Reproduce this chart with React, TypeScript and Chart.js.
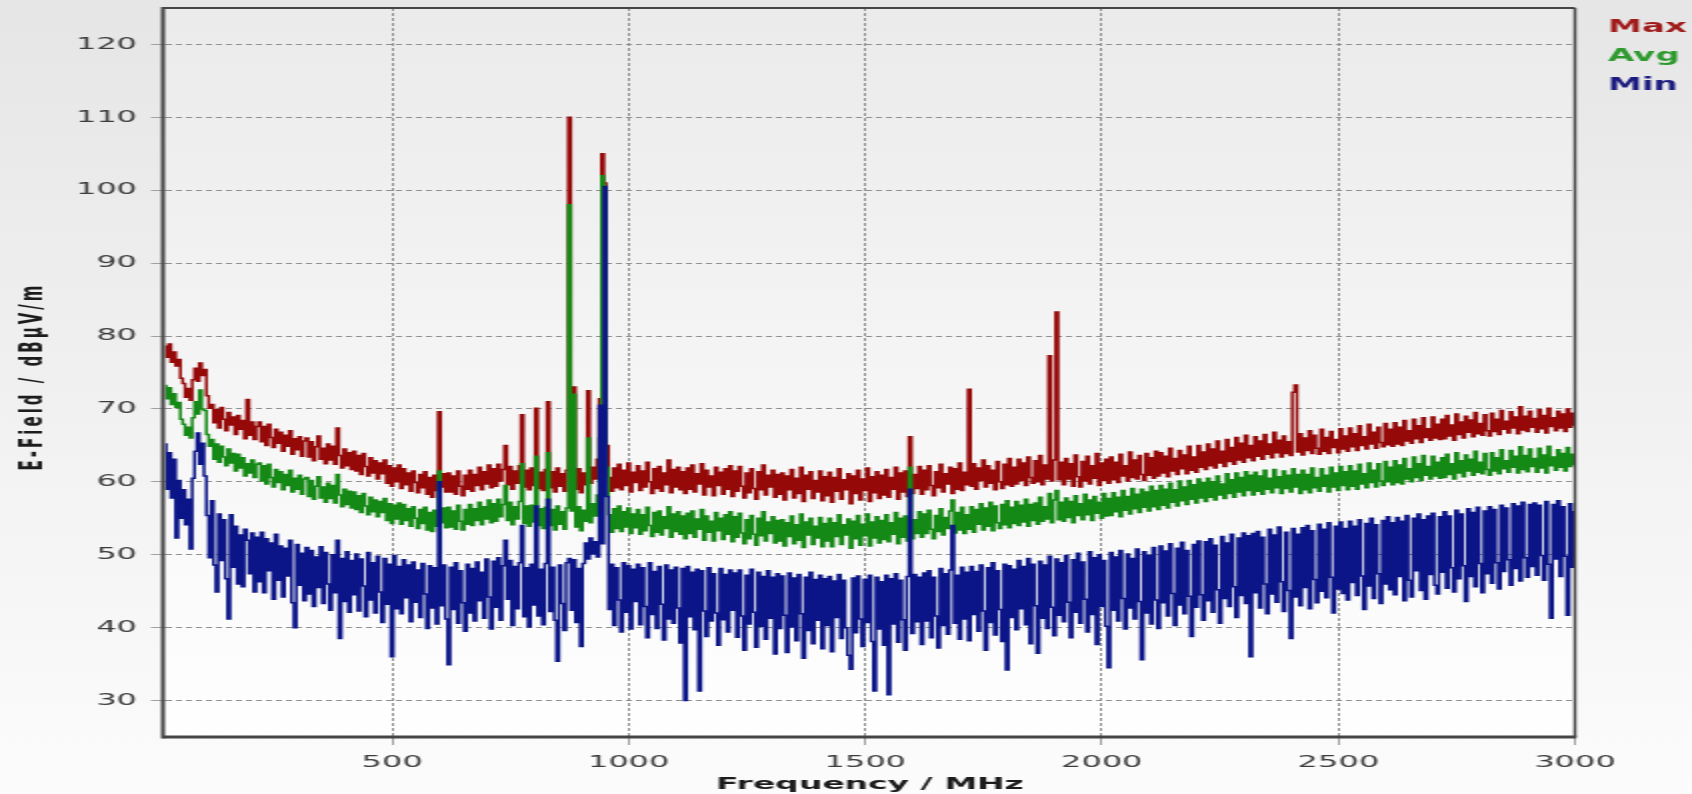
import { useEffect, useRef } from "react";
import { Chart, registerables } from "chart.js";

Chart.register(...registerables);

// ---------------- data ----------------
const START_MHZ = 20;
const STEP_MHZ = 5;
const X_MIN = 20;
const X_MAX = 3000;
const Y_MIN = 25;
const Y_MAX = 125;
const X_TICKS = [500, 1000, 1500, 2000, 2500, 3000];
const Y_TICKS = [30, 40, 50, 60, 70, 80, 90, 100, 110, 120];
const SERIES_NAMES = ["Max", "Avg", "Min"];
const X_TITLE = "Frequency / MHz";
const Y_TITLE = "E-Field / dBµV/m";

// one value every 5 MHz; each row covers 100 MHz (row r starts at 20 + 100 r MHz)
const MAX_DBUV = [
  78.6, 77.1, 78.9, 76.4, 77.8, 75.9, 76.8, 74.2, 73.5, 71.6, 72.8, 71.2, 74.0, 75.6, 73.8, 76.3, 74.6, 75.4, 71.8, 70.1,
  70.6, 68.1, 69.9, 67.4, 70.2, 68.6, 67.0, 69.5, 67.8, 68.9, 66.5, 69.1, 67.2, 68.4, 65.9, 71.3, 66.4, 68.2, 65.8, 67.6,
  68.2, 65.5, 67.6, 65.0, 67.9, 66.1, 64.7, 67.2, 65.3, 66.8, 64.2, 66.4, 64.9, 67.0, 63.8, 65.9, 64.4, 66.2, 63.5, 65.6,
  66.0, 63.4, 65.5, 62.9, 64.8, 66.3, 63.1, 64.6, 62.5, 65.2, 63.0, 64.9, 62.4, 67.4, 63.6, 61.9, 64.5, 62.2, 64.0, 61.7,
  64.2, 61.5, 63.6, 61.0, 63.9, 62.1, 60.8, 63.3, 61.2, 62.9, 60.4, 62.6, 61.1, 63.0, 59.8, 62.2, 59.4, 61.9, 60.0, 62.3,
  59.1, 61.8, 59.6, 61.2, 58.7, 61.5, 59.9, 58.5, 61.0, 59.2, 61.4, 58.3, 60.6, 57.9, 60.9, 58.8, 69.6, 59.3, 61.1, 58.6,
  61.2, 58.6, 60.8, 58.3, 61.5, 59.4, 58.1, 60.9, 59.0, 61.6, 58.7, 61.0, 59.5, 62.0, 58.9, 61.4, 59.7, 62.3, 59.2, 61.8,
  59.4, 62.4, 60.1, 61.7, 65.0, 59.6, 62.1, 59.0, 61.5, 59.8, 62.2, 69.2, 59.3, 61.6, 58.9, 61.9, 59.5, 70.1, 59.1, 61.3,
  58.8, 61.7, 71.0, 59.2, 61.4, 58.6, 61.9, 59.4, 61.1, 58.7, 61.6, 110.0, 61.0, 73.0, 59.0, 61.8, 58.5, 61.2, 59.6, 72.5,
  59.8, 62.0, 60.4, 63.1, 71.4, 105.0, 101.0, 65.0, 60.6, 58.7, 61.9, 59.2, 62.4, 58.9, 61.6, 59.5, 62.6, 58.6, 61.3, 59.9,
  62.2, 58.8, 61.5, 59.3, 62.7, 60.0, 58.4, 61.8, 59.1, 62.1, 58.7, 61.2, 59.6, 63.0, 58.5, 61.7, 59.3, 62.0, 58.9, 61.4,
  58.4, 61.9, 59.0, 62.3, 58.6, 61.1, 59.7, 62.5, 58.2, 61.6, 59.3, 60.8, 58.1, 62.0, 59.5, 61.3, 58.3, 61.8, 59.0, 62.2,
  58.0, 61.5, 58.7, 62.1, 59.4, 57.8, 61.2, 58.5, 61.8, 59.1, 57.6, 61.4, 58.9, 62.3, 58.2, 60.9, 59.3, 61.6, 57.9, 61.0,
  58.3, 61.2, 57.5, 60.8, 58.9, 61.7, 57.8, 60.5, 58.4, 62.0, 57.3, 60.9, 59.0, 61.4, 57.7, 60.2, 58.6, 61.5, 57.4, 60.7,
  58.1, 61.3, 57.2, 60.6, 58.7, 61.8, 57.6, 60.3, 58.9, 61.1, 57.0, 60.8, 58.4, 61.6, 57.5, 60.4, 58.8, 61.9, 57.3, 60.7,
  58.5, 61.4, 57.7, 60.9, 58.2, 61.7, 57.9, 60.6, 59.0, 62.0, 57.6, 61.2, 58.6, 61.5, 58.0, 66.2, 58.4, 61.0, 59.1, 62.1,
  58.3, 61.6, 58.9, 62.2, 59.5, 58.1, 61.4, 59.2, 62.4, 58.6, 61.1, 59.7, 62.0, 58.4, 61.8, 59.0, 62.6, 58.8, 61.3, 59.6,
  72.7, 59.4, 62.5, 59.0, 61.9, 60.2, 63.0, 59.3, 62.2, 59.8, 61.6, 58.9, 62.8, 60.0, 59.1, 62.4, 59.6, 63.2, 59.4, 62.0,
  59.7, 63.1, 60.2, 62.6, 59.5, 63.4, 60.6, 59.8, 62.9, 60.0, 63.6, 59.6, 62.3, 60.4, 77.3, 60.1, 63.0, 83.3, 60.3, 62.7,
  59.6, 63.2, 60.4, 62.5, 59.4, 63.7, 60.7, 59.3, 62.8, 60.1, 63.5, 59.7, 62.2, 60.5, 63.9, 59.5, 62.6, 60.2, 63.1, 59.8,
  63.4, 60.3, 62.7, 59.9, 63.8, 60.8, 62.2, 60.1, 64.1, 60.6, 63.0, 60.4, 63.6, 61.0, 60.2, 63.9, 60.9, 63.3, 60.5, 64.2,
  60.8, 64.0, 61.2, 63.5, 60.7, 64.6, 61.5, 63.2, 61.0, 64.3, 61.8, 63.7, 61.1, 64.9, 61.6, 63.4, 61.3, 65.0, 62.0, 64.1,
  61.7, 65.2, 62.2, 64.5, 61.9, 65.6, 62.6, 64.2, 62.1, 65.8, 62.8, 64.7, 62.4, 66.1, 63.0, 65.3, 62.7, 66.4, 63.3, 65.0,
  62.9, 66.2, 63.5, 65.6, 63.1, 66.5, 63.8, 65.2, 63.3, 66.8, 64.0, 65.7, 63.4, 66.3, 63.9, 65.5, 63.6, 72.3, 73.3, 64.1,
  66.6, 63.7, 66.0, 64.3, 67.0, 63.9, 66.4, 64.6, 63.8, 67.2, 64.2, 66.1, 63.9, 66.9, 64.7, 65.8, 64.0, 67.3, 64.5, 66.3,
  64.2, 67.4, 64.8, 66.6, 64.3, 67.7, 65.0, 66.2, 64.5, 67.9, 65.2, 66.8, 64.6, 67.5, 65.4, 64.8, 68.0, 65.1, 67.2, 64.9,
  68.1, 65.2, 67.5, 65.0, 68.4, 65.6, 67.0, 65.3, 68.6, 65.9, 67.7, 65.4, 68.8, 66.1, 67.3, 65.7, 68.9, 66.0, 67.9, 65.8,
  68.6, 65.9, 69.1, 66.3, 67.8, 65.7, 69.3, 66.5, 68.2, 66.0, 69.0, 66.8, 68.5, 66.2, 69.5, 66.6, 68.0, 66.4, 69.2, 67.0,
  66.3, 69.4, 66.9, 68.6, 66.5, 69.8, 67.2, 68.3, 66.7, 69.6, 67.4, 68.9, 66.6, 70.3, 67.1, 69.0, 66.9, 69.7, 67.5, 68.7,
  66.8, 69.9, 67.3, 69.1, 66.7, 70.1, 67.6, 68.8, 67.0, 69.7, 67.4, 69.3, 66.9, 70.0, 67.5, 69.4, 67.8,
];

const AVG_DBUV = [
  73.2, 71.4, 72.9, 70.6, 72.1, 70.2, 70.9, 68.6, 67.9, 66.4, 67.5, 66.0, 68.8, 71.0, 69.3, 72.6, 70.0, 69.8, 66.5, 64.9,
  65.8, 63.1, 65.2, 62.7, 64.9, 63.4, 62.2, 64.5, 62.6, 63.9, 61.5, 63.8, 61.9, 63.3, 60.8, 62.5, 61.2, 63.0, 60.6, 62.4,
  62.6, 60.1, 62.2, 59.7, 62.4, 60.6, 59.3, 61.7, 59.9, 61.4, 58.9, 61.0, 59.5, 61.6, 58.6, 60.5, 59.0, 60.9, 58.3, 60.4,
  60.6, 58.0, 60.2, 57.6, 59.4, 60.7, 57.8, 59.3, 57.2, 59.8, 57.7, 59.5, 57.1, 61.0, 58.2, 56.6, 59.0, 56.9, 58.7, 56.4,
  58.6, 56.2, 58.1, 55.8, 58.4, 56.7, 55.5, 57.9, 55.9, 57.5, 55.2, 57.3, 55.8, 57.7, 54.7, 57.0, 54.3, 56.8, 54.9, 57.1,
  54.2, 56.9, 54.7, 56.3, 53.9, 56.6, 55.0, 53.6, 56.2, 54.3, 56.5, 53.4, 55.8, 53.2, 56.1, 53.9, 61.5, 54.4, 56.4, 53.7,
  56.5, 53.8, 56.0, 53.5, 56.8, 54.6, 53.4, 56.2, 54.2, 56.9, 54.0, 56.3, 54.7, 57.2, 54.1, 56.6, 54.9, 57.5, 54.4, 57.0,
  54.6, 57.6, 55.2, 56.9, 59.5, 54.7, 57.2, 54.1, 56.6, 54.9, 57.3, 62.5, 54.3, 56.7, 53.9, 56.8, 54.5, 63.5, 54.0, 56.3,
  53.6, 56.5, 64.0, 54.0, 56.2, 53.4, 56.7, 54.2, 55.9, 53.5, 56.4, 98.0, 56.0, 72.0, 53.8, 56.6, 53.3, 56.1, 54.6, 66.0,
  54.4, 57.0, 55.3, 58.2, 66.0, 102.0, 100.5, 62.0, 55.5, 53.1, 56.3, 53.6, 56.7, 53.2, 55.9, 53.8, 56.4, 52.9, 55.6, 53.7,
  56.2, 52.8, 55.5, 53.3, 56.5, 54.0, 52.5, 55.8, 53.1, 56.0, 52.7, 55.2, 53.6, 56.6, 52.4, 55.6, 53.2, 55.9, 52.8, 55.3,
  52.2, 55.7, 52.9, 56.0, 52.4, 54.9, 53.5, 56.2, 52.0, 55.3, 53.1, 54.6, 51.9, 55.8, 53.3, 55.0, 52.1, 55.5, 52.8, 55.9,
  51.8, 55.2, 52.4, 55.7, 53.0, 51.5, 54.8, 52.2, 55.4, 52.8, 51.3, 55.0, 52.6, 55.9, 51.9, 54.5, 52.9, 55.2, 51.6, 54.7,
  51.9, 54.8, 51.2, 54.4, 52.5, 55.3, 51.5, 54.1, 52.0, 55.6, 51.0, 54.5, 52.7, 55.0, 51.4, 53.9, 52.3, 55.1, 51.1, 54.3,
  51.9, 55.0, 51.1, 54.4, 52.5, 55.5, 51.4, 54.1, 52.7, 54.9, 50.9, 54.6, 52.2, 55.4, 51.3, 54.2, 52.6, 55.6, 51.2, 54.5,
  52.3, 55.2, 51.6, 54.7, 52.1, 55.5, 51.8, 54.4, 52.8, 55.8, 51.5, 55.0, 52.4, 55.3, 51.9, 62.0, 52.2, 54.8, 52.9, 55.9,
  52.4, 55.6, 52.9, 56.1, 53.5, 52.2, 55.4, 53.2, 56.3, 52.7, 55.1, 53.6, 56.0, 57.5, 53.0, 55.8, 53.4, 56.5, 52.9, 55.5,
  53.5, 56.6, 53.1, 56.2, 54.2, 57.0, 53.4, 56.4, 53.9, 57.2, 53.3, 56.7, 54.4, 53.6, 56.9, 54.1, 57.4, 53.7, 56.5, 54.3,
  57.3, 54.0, 56.8, 54.5, 57.6, 53.9, 56.9, 54.7, 57.1, 54.2, 57.9, 54.6, 56.6, 54.9, 58.4, 54.4, 57.5, 58.8, 54.8, 57.2,
  54.6, 57.8, 55.1, 57.3, 54.4, 58.1, 55.4, 57.0, 54.8, 58.3, 55.5, 57.5, 54.7, 58.0, 55.7, 57.2, 55.0, 58.4, 55.3, 57.7,
  55.4, 58.5, 55.9, 57.9, 55.2, 58.8, 56.1, 58.0, 55.6, 59.1, 56.3, 58.3, 55.8, 59.0, 56.5, 58.6, 56.0, 59.4, 56.6, 58.8,
  56.2, 59.5, 56.8, 59.0, 56.4, 59.8, 57.2, 58.9, 56.7, 60.1, 57.4, 59.3, 56.9, 60.2, 57.6, 59.6, 57.1, 60.4, 57.8, 59.9,
  57.3, 60.5, 57.9, 60.0, 57.5, 60.8, 58.2, 59.7, 57.7, 61.1, 58.4, 60.3, 57.9, 61.2, 58.6, 60.6, 58.1, 61.4, 58.8, 60.9,
  58.2, 61.3, 58.7, 60.8, 58.3, 61.6, 59.0, 60.5, 58.5, 61.7, 59.2, 60.7, 58.4, 61.5, 59.1, 60.9, 58.6, 61.8, 59.3, 61.0,
  58.4, 61.6, 58.9, 61.0, 58.5, 61.9, 59.2, 60.6, 58.7, 61.8, 59.4, 60.9, 58.6, 62.0, 59.3, 61.2, 58.8, 62.1, 59.5, 61.4,
  58.9, 62.2, 59.4, 61.5, 59.0, 62.4, 59.7, 61.1, 59.2, 62.6, 59.9, 61.6, 59.3, 62.5, 60.1, 59.5, 62.8, 60.0, 62.0, 59.6,
  62.9, 59.9, 62.3, 59.7, 63.2, 60.4, 61.8, 60.0, 63.4, 60.6, 62.5, 60.2, 63.6, 60.9, 62.1, 60.4, 63.5, 60.8, 62.7, 60.5,
  63.3, 60.6, 63.8, 61.0, 62.5, 60.4, 64.0, 61.2, 62.9, 60.7, 63.7, 61.5, 63.1, 60.9, 64.2, 61.3, 62.7, 61.1, 63.9, 61.7,
  60.9, 64.0, 61.5, 63.3, 61.1, 64.4, 61.8, 62.9, 61.3, 64.3, 62.0, 63.5, 61.2, 64.8, 61.7, 63.6, 61.4, 64.5, 62.1, 63.2,
  61.3, 64.6, 61.9, 63.7, 61.2, 64.9, 62.2, 63.4, 61.6, 64.4, 62.0, 63.9, 61.5, 64.7, 62.1, 63.8, 62.4,
];

const MIN_DBUV = [
  65.2, 59.0, 64.0, 57.8, 63.1, 52.3, 60.2, 55.0, 58.9, 54.1, 57.6, 50.8, 60.5, 64.2, 66.7, 62.4, 65.3, 60.8, 55.4, 49.6,
  57.4, 48.6, 44.9, 55.6, 49.2, 54.8, 46.7, 41.2, 55.5, 48.3, 53.9, 46.0, 52.7, 45.6, 53.5, 52.0, 47.4, 53.0, 44.9, 52.4,
  46.3, 53.1, 44.8, 52.2, 47.8, 51.6, 43.9, 52.8, 46.5, 51.2, 44.2, 50.9, 47.1, 52.0, 43.4, 40.0, 51.4, 45.8, 50.2, 43.7,
  51.0, 44.6, 50.6, 42.9, 49.7, 45.5, 51.1, 43.3, 50.3, 46.0, 42.4, 50.0, 44.8, 52.0, 38.5, 49.5, 43.6, 50.4, 42.1, 49.2,
  44.5, 50.1, 42.3, 49.4, 45.7, 41.5, 50.3, 43.8, 48.9, 42.0, 49.8, 44.9, 40.7, 49.5, 43.2, 48.7, 36.0, 49.9, 42.6, 48.4,
  41.9, 49.3, 44.1, 48.6, 40.8, 49.0, 43.5, 47.9, 41.4, 48.8, 44.6, 39.9, 48.5, 42.7, 48.2, 40.5, 60.0, 43.0, 48.6, 41.2,
  34.9, 48.3, 42.5, 48.9, 40.6, 47.8, 43.4, 39.5, 48.7, 42.0, 48.1, 40.9, 49.0, 43.7, 47.6, 41.3, 49.4, 44.2, 39.8, 49.1,
  42.8, 49.6, 41.0, 48.5, 52.0, 43.9, 49.2, 40.3, 48.4, 42.6, 48.9, 54.0, 41.5, 48.2, 40.1, 48.7, 43.1, 56.7, 41.6, 48.0,
  40.4, 48.8, 57.6, 42.2, 48.3, 41.0, 35.4, 48.6, 43.3, 39.6, 48.9, 49.5, 42.4, 49.3, 40.7, 48.1, 37.4, 48.8, 51.6, 49.4,
  52.3, 50.1, 51.8, 49.7, 70.5, 51.5, 100.5, 58.0, 42.5, 48.7, 40.3, 48.2, 43.8, 39.4, 48.9, 42.1, 48.5, 39.8, 48.0, 43.6,
  48.7, 40.4, 48.2, 42.9, 38.6, 48.9, 41.8, 47.7, 39.9, 48.4, 43.2, 38.3, 48.6, 41.2, 47.9, 40.6, 48.3, 42.7, 37.9, 48.1,
  30.0, 48.4, 41.5, 47.6, 39.7, 48.0, 31.3, 47.8, 42.3, 38.8, 48.2, 40.9, 47.4, 42.0, 37.6, 48.1, 41.1, 47.3, 39.4, 47.9,
  42.4, 47.5, 38.7, 47.9, 41.6, 36.9, 47.2, 40.5, 48.0, 42.1, 37.3, 47.6, 40.2, 47.0, 38.4, 47.8, 41.3, 46.9, 36.4, 47.4,
  39.9, 47.1, 41.7, 36.6, 47.5, 40.1, 46.8, 38.2, 47.3, 41.9, 35.8, 46.9, 39.6, 47.6, 37.8, 46.6, 41.0, 47.2, 37.1, 46.7,
  40.3, 47.0, 36.7, 46.4, 41.4, 47.3, 38.5, 46.5, 40.0, 36.2, 34.3, 46.8, 39.3, 47.1, 41.2, 37.4, 46.6, 40.7, 47.2, 38.1,
  31.3, 46.9, 39.8, 46.3, 37.6, 47.2, 30.8, 46.7, 40.5, 47.4, 38.0, 46.5, 41.1, 36.9, 47.0, 59.0, 39.2, 47.3, 40.8, 46.9,
  37.7, 47.5, 40.9, 47.8, 38.6, 46.9, 41.6, 37.2, 48.1, 40.3, 47.4, 39.1, 47.9, 54.0, 40.6, 47.2, 38.4, 48.3, 41.2, 47.6,
  38.2, 48.4, 41.8, 47.7, 39.5, 48.6, 42.3, 36.9, 48.2, 40.7, 48.9, 39.0, 47.8, 42.5, 38.1, 48.7, 34.2, 48.5, 41.4, 48.0,
  39.7, 49.2, 42.6, 48.4, 40.4, 49.5, 37.8, 48.7, 43.0, 36.5, 49.1, 41.3, 48.6, 39.9, 49.8, 42.8, 38.9, 49.4, 41.7, 48.9,
  40.8, 49.9, 43.5, 38.6, 49.3, 42.1, 50.2, 40.6, 49.0, 43.9, 39.4, 50.4, 41.8, 49.6, 37.7, 50.0, 42.9, 49.2, 40.2, 34.5,
  50.3, 42.4, 49.7, 40.9, 50.6, 44.0, 39.8, 50.1, 42.7, 49.5, 41.2, 50.8, 43.6, 35.6, 50.4, 42.0, 49.9, 40.5, 51.0, 43.8,
  39.9, 51.2, 43.4, 50.5, 41.6, 51.5, 44.7, 40.3, 50.9, 43.1, 51.7, 41.9, 50.6, 44.3, 38.8, 51.4, 42.8, 51.9, 44.5, 41.0,
  51.8, 43.7, 52.2, 42.1, 51.3, 45.2, 40.6, 52.5, 44.0, 51.6, 42.9, 52.8, 45.6, 41.4, 52.3, 44.4, 53.0, 43.3, 52.6, 36.0,
  52.9, 44.8, 53.2, 42.7, 52.4, 46.0, 41.9, 53.5, 44.6, 52.7, 43.5, 53.8, 46.3, 42.2, 53.1, 45.1, 38.5, 53.6, 44.2, 52.8,
  43.0, 53.7, 45.5, 54.0, 42.6, 53.3, 46.6, 43.4, 54.2, 45.0, 53.5, 44.1, 54.4, 46.9, 42.0, 53.9, 45.3, 54.5, 44.7, 53.6,
  43.8, 54.6, 46.2, 53.9, 44.4, 54.8, 47.1, 42.5, 54.3, 45.7, 55.0, 44.0, 54.1, 47.4, 43.3, 54.7, 46.0, 55.2, 45.2, 54.4,
  44.5, 55.1, 47.0, 54.6, 43.7, 55.4, 46.5, 44.2, 55.0, 47.8, 55.6, 45.1, 54.8, 43.9, 55.3, 47.3, 55.7, 45.8, 44.6, 55.2,
  47.6, 55.9, 45.4, 55.3, 48.2, 44.9, 56.1, 46.7, 55.6, 48.5, 43.6, 56.3, 47.0, 55.8, 45.6, 56.5, 48.8, 44.8, 56.0, 47.4,
  56.6, 46.1, 56.2, 48.9, 45.3, 56.8, 47.7, 56.4, 49.3, 45.8, 57.0, 48.1, 56.7, 46.4, 57.2, 49.6, 46.9, 56.9, 48.4, 57.1,
  47.2, 56.8, 49.9, 46.5, 57.3, 48.7, 41.3, 56.9, 49.4, 57.4, 47.0, 56.6, 49.8, 41.7, 57.0, 48.3, 55.9,
];

const FREQ_MHZ = MAX_DBUV.map((_, i) => START_MHZ + i * STEP_MHZ);

// ---------------- styling ----------------
const CANVAS_W = 846; // drawn at half width, stretched 2x by CSS like the reference
const CANVAS_H = 794;
const SERIES_COLORS = ["#960909", "#158915", "#0b1587"];
const LEGEND_COLORS = ["#a01c1c", "#2e9a2e", "#1c1c80"];
const GRID_COLOR = "#8f8f8f";
const TICK_COLOR = "#3c3c3c";

const backgroundPlugin = {
  id: "bgPlugin",
  beforeDraw(chart: any) {
    const { ctx, width, height, chartArea: a } = chart;
    ctx.save();
    const g = ctx.createLinearGradient(0, 0, 0, height);
    g.addColorStop(0, "#e6e6e6");
    g.addColorStop(1, "#fcfcfc");
    ctx.fillStyle = g;
    ctx.fillRect(0, 0, width, height);
    const g2 = ctx.createLinearGradient(0, a.top, 0, a.bottom);
    g2.addColorStop(0, "#ebebeb");
    g2.addColorStop(1, "#ffffff");
    ctx.fillStyle = g2;
    ctx.fillRect(a.left, a.top, a.right - a.left, a.bottom - a.top);
    ctx.restore();
  },
};

const framePlugin = {
  id: "framePlugin",
  afterDatasetsDraw(chart: any) {
    const { ctx, chartArea: a } = chart;
    ctx.save();
    ctx.strokeStyle = "#454545";
    const line = (x1: number, y1: number, x2: number, y2: number, w: number) => {
      ctx.lineWidth = w;
      ctx.beginPath();
      ctx.moveTo(x1, y1);
      ctx.lineTo(x2, y2);
      ctx.stroke();
    };
    line(a.left - 1, a.top, a.right, a.top, 2);
    line(a.right, a.top, a.right, a.bottom, 1.5);
    line(a.left - 1, a.bottom, a.right + 0.75, a.bottom, 3);
    line(a.left - 1, a.top - 1, a.left - 1, a.bottom + 1.5, 2);
    ctx.restore();
  },
};

const textPlugin = {
  id: "textPlugin",
  afterDraw(chart: any) {
    const { ctx, chartArea: a } = chart;
    ctx.save();
    ctx.fillStyle = "#1c1c1c";
    ctx.textAlign = "center";
    ctx.textBaseline = "middle";
    ctx.font = "bold 16.5px 'DejaVu Sans'";
    ctx.fillText(X_TITLE, (a.left + a.right) / 2, 785);

    ctx.save();
    ctx.translate(17, (a.top + a.bottom) / 2 + 4);
    ctx.rotate(-Math.PI / 2);
    ctx.font = "bold 15px 'DejaVu Sans'";
    (ctx as any).letterSpacing = "3px";
    ctx.fillText(Y_TITLE, 0, 0);
    (ctx as any).letterSpacing = "0px";
    ctx.restore();

    ctx.textAlign = "left";
    ctx.font = "bold 17px 'DejaVu Sans'";
    const ys = [28, 57, 86];
    SERIES_NAMES.forEach((name, i) => {
      ctx.fillStyle = LEGEND_COLORS[i];
      ctx.fillText(name, 804, ys[i]);
    });
    ctx.restore();
  },
};

export default function App() {
  const ref = useRef<HTMLCanvasElement>(null);

  useEffect(() => {
    const canvas = ref.current;
    if (!canvas) return;
    const seriesValues = [MAX_DBUV, AVG_DBUV, MIN_DBUV];
    const chart = new Chart(canvas, {
      type: "line",
      data: {
        datasets: SERIES_NAMES.map((name, k) => ({
          label: name,
          data: FREQ_MHZ.map((f, i) => ({ x: f, y: seriesValues[k][i] })),
          borderColor: SERIES_COLORS[k],
          backgroundColor: SERIES_COLORS[k],
          borderWidth: 1.5,
          pointRadius: 0,
          pointHoverRadius: 0,
          stepped: "middle",
          fill: false,
          order: 3 - k,
        })),
      },
      options: {
        animation: false,
        responsive: false,
        devicePixelRatio: 1,
        events: [],
        layout: { padding: { left: 0, right: CANVAS_W - 787.5, top: 8, bottom: 0 } },
        plugins: {
          legend: { display: false },
          tooltip: { enabled: false },
          title: { display: false },
        },
        scales: {
          x: {
            type: "linear",
            min: X_MIN,
            max: X_MAX,
            afterBuildTicks: (s: any) => {
              s.ticks = X_TICKS.map((v) => ({ value: v }));
            },
            afterFit: (s: any) => {
              s.height = 57;
              s.paddingLeft = 0;
              s.paddingRight = 0;
              s.paddingTop = 0;
              s.paddingBottom = 0;
            },
            grid: {
              color: GRID_COLOR,
              lineWidth: 1,
              tickLength: 8,
              tickColor: "#a0a0a0",
            },
            border: { display: false, dash: [3, 2] },
            ticks: {
              color: TICK_COLOR,
              font: { family: "'DejaVu Sans'", size: 16 },
              padding: 8,
              maxRotation: 0,
              autoSkip: false,
              callback: (v: any) => String(v),
            },
          },
          y: {
            type: "linear",
            min: Y_MIN,
            max: Y_MAX,
            afterBuildTicks: (s: any) => {
              s.ticks = Y_TICKS.map((v) => ({ value: v }));
            },
            afterFit: (s: any) => {
              s.width = 82.5;
              s.paddingTop = 0;
              s.paddingBottom = 0;
              s.paddingLeft = 0;
              s.paddingRight = 0;
            },
            grid: {
              color: GRID_COLOR,
              lineWidth: 1,
              tickLength: 7,
              tickColor: "#a0a0a0",
            },
            border: { display: false, dash: [3, 2] },
            ticks: {
              color: TICK_COLOR,
              font: { family: "'DejaVu Sans'", size: 16 },
              padding: 7,
              callback: (v: any) => String(v),
            },
          },
        },
      },
      plugins: [backgroundPlugin, framePlugin, textPlugin],
    } as any);
    return () => chart.destroy();
  }, []);

  return (
    <div style={{ position: "absolute", left: 0, top: 0, width: 1692, height: 794, overflow: "hidden" }}>
      <canvas
        ref={ref}
        width={CANVAS_W}
        height={CANVAS_H}
        style={{ width: "1692px", height: "794px", display: "block" }}
      />
    </div>
  );
}
